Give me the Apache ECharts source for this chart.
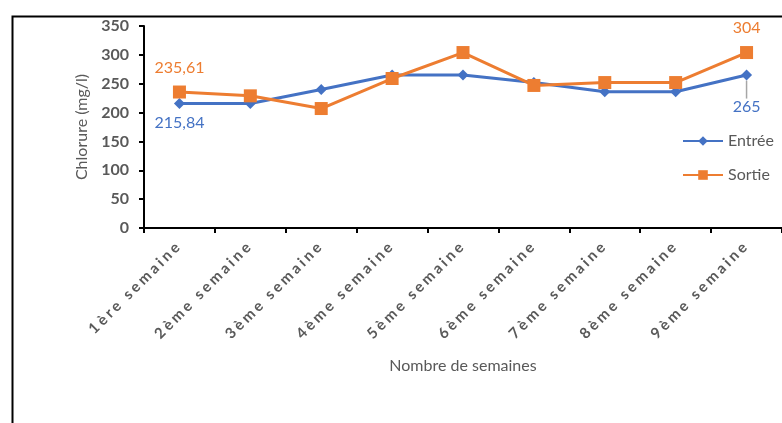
<!DOCTYPE html>
<html>
<head>
<meta charset="utf-8">
<script src="https://cdn.jsdelivr.net/npm/echarts@6/dist/echarts.min.js"></script>
<style>
html,body{margin:0;padding:0;background:#fff;}
#c{width:782px;height:423px;}
</style>
</head>
<body>
<div id="c"></div>
<script>
const categories = ['1ère semaine','2ème semaine','3ème semaine','4ème semaine','5ème semaine','6ème semaine','7ème semaine','8ème semaine','9ème semaine'];
const entree = [215.84, 215.84, 240, 265, 265, 252, 236, 236, 265];
const sortie = [235.61, 229, 207, 259, 304, 247, 252, 252, 304];
const yTicks = {min: 0, max: 350, interval: 50};

// wider letter spacing for the bold category labels (Excel-like rendering)
(function(){
  const proto = CanvasRenderingContext2D.prototype;
  const orig = proto.fillText;
  proto.fillText = function(){
    try {
      if ('letterSpacing' in this) {
        const f = this.font || '';
        if (f.indexOf('bold') >= 0 && f.indexOf('15px') >= 0) this.letterSpacing = '3px';
        else this.letterSpacing = '0px';
      }
    } catch(e) {}
    return orig.apply(this, arguments);
  };
})();

const fmt = v => String(v).replace('.', ',');
const BLUE = '#4472C4', ORANGE = '#ED7D31', GRAY = '#595959';
const FONT = 'Lato';

function entreeData(){
  return entree.map((v,i) => {
    if (i === 0) return {value: v, label: {show: true, position: 'bottom', distance: 6}};
    if (i === entree.length - 1) return {value: v, label: {show: true, position: 'bottom', distance: 6}, labelLine: {show: true}};
    return v;
  });
}
function sortieData(){
  return sortie.map((v,i) => {
    if (i === 0 || i === sortie.length - 1) return {value: v, label: {show: true, position: 'top', distance: 10}};
    return v;
  });
}

const chart = echarts.init(document.getElementById('c'), null, {renderer: 'canvas'});
chart.setOption({
  animation: false,
  backgroundColor: '#fff',
  textStyle: {fontFamily: FONT},
  graphic: [{
    type: 'rect', left: 10, top: 14, z: -1,
    shape: {width: 800, height: 450},
    style: {fill: 'none', stroke: '#000', lineWidth: 2}
  }],
  grid: {left: 144, top: 26, width: 650, height: 202, containLabel: false},
  legend: {
    orient: 'vertical', left: 677, top: 128,
    itemWidth: 40, itemHeight: 12, itemGap: 18,
    textStyle: {fontFamily: FONT, fontSize: 16, color: GRAY},
    data: ['Entrée', 'Sortie']
  },
  xAxis: {
    type: 'category', data: categories, boundaryGap: true,
    name: 'Nombre de semaines', nameLocation: 'middle', nameGap: 130,
    nameTextStyle: {fontFamily: FONT, fontSize: 16, color: GRAY},
    axisLine: {lineStyle: {color: '#000', width: 2}},
    axisTick: {show: true, length: 5, alignWithLabel: false, lineStyle: {color: '#000', width: 2}},
    axisLabel: {rotate: 45, interval: 0, fontFamily: FONT, fontWeight: 'bold', fontSize: 15, color: GRAY, margin: 15}
  },
  yAxis: {
    type: 'value', min: yTicks.min, max: yTicks.max, interval: yTicks.interval,
    name: 'Chlorure (mg/l)', nameLocation: 'middle', nameGap: 48,
    nameTextStyle: {fontFamily: FONT, fontSize: 16, color: GRAY},
    splitLine: {show: false},
    axisLine: {show: true, lineStyle: {color: '#000', width: 2}},
    axisTick: {show: true, length: 5, lineStyle: {color: '#000', width: 2}},
    axisLabel: {fontFamily: FONT, fontWeight: 'bold', fontSize: 16, color: GRAY, margin: 15}
  },
  series: [
    {
      name: 'Entrée', type: 'line', data: entreeData(),
      symbol: 'diamond', symbolSize: 11, showAllSymbol: true,
      lineStyle: {color: BLUE, width: 3}, itemStyle: {color: BLUE},
      label: {show: false, formatter: p => fmt(p.value), fontFamily: FONT, fontSize: 16, color: BLUE},
      labelLine: {show: false, lineStyle: {color: '#a6a6a6', width: 1.5}},
      labelLayout: function(p){ return p.dataIndex === entree.length - 1 ? {dy: 12} : {}; },
      z: 2
    },
    {
      name: 'Sortie', type: 'line', data: sortieData(),
      symbol: 'rect', symbolSize: 13, showAllSymbol: true,
      lineStyle: {color: ORANGE, width: 3}, itemStyle: {color: ORANGE},
      label: {show: false, formatter: p => fmt(p.value), fontFamily: FONT, fontSize: 16, color: ORANGE},
      z: 3
    }
  ]
});
</script>
</body>
</html>
